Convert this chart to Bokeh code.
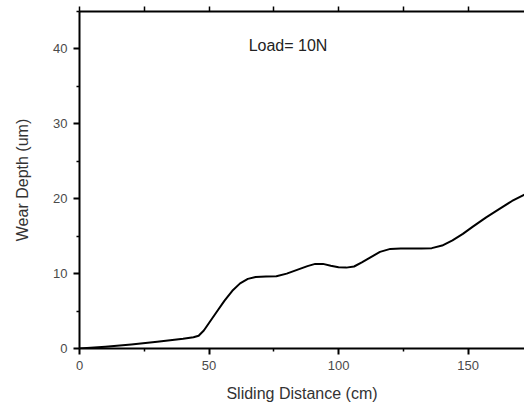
from bokeh.plotting import figure
from bokeh.models import LinearAxis, Label, FixedTicker, ColumnDataSource, CustomJSTickFormatter
from bokeh.embed import file_html
from bokeh.resources import INLINE

distance_cm = [0, 10, 20, 30, 40, 44, 46, 48, 50, 53, 56, 59, 62, 65, 68, 72, 76, 80,
               84, 88, 91, 94, 97, 100, 103, 106, 109, 112, 116, 120, 124, 128, 132,
               136, 140, 144, 148, 152, 157, 162, 167, 172]
wear_depth_um = [0, 0.25, 0.55, 0.9, 1.3, 1.5, 1.7, 2.4, 3.4, 4.9, 6.4, 7.7, 8.7,
                 9.3, 9.55, 9.6, 9.65, 10.0, 10.5, 11.0, 11.3, 11.3, 11.05, 10.85,
                 10.8, 10.95, 11.5, 12.1, 12.9, 13.3, 13.35, 13.35, 13.35, 13.4,
                 13.75, 14.45, 15.3, 16.3, 17.5, 18.6, 19.7, 20.6]
x_major = [0, 50, 100, 150]
x_minor = [25, 75, 125, 175]
y_major = [0, 10, 20, 30, 40]
y_minor = [5, 15, 25, 35, 45]
annotation = "Load= 10N"

FONT = "Liberation Sans"

p = figure(width=524, height=404, x_range=(0, 171.8), y_range=(0, 45),
           output_backend="svg", toolbar_location=None,
           min_border_left=79, min_border_right=0, min_border_top=11, min_border_bottom=10,
           x_axis_label="Sliding Distance (cm)", y_axis_label="Wear Depth (um)")
p.grid.visible = False
p.outline_line_color = None
p.background_fill_color = "white"
p.border_fill_color = "white"

src = ColumnDataSource(dict(x=distance_cm, y=wear_depth_um))
p.line("x", "y", source=src, line_color="black", line_width=2, line_join="round")

for ax in (p.xaxis[0], p.yaxis[0]):
    ax.axis_line_width = 2
    ax.major_tick_line_width = 2
    ax.minor_tick_line_width = 1.5
    ax.major_tick_in = 0
    ax.major_tick_out = 6
    ax.minor_tick_in = 0
    ax.minor_tick_out = 3
    ax.major_label_text_font = FONT
    ax.major_label_text_font_size = "13px"
    ax.major_label_text_color = "#4a4a4a"
    ax.axis_label_text_font = FONT
    ax.axis_label_text_font_size = "16px"
    ax.axis_label_text_font_style = "normal"
    ax.axis_label_text_color = "#333333"

p.xaxis[0].ticker = FixedTicker(ticks=x_major, minor_ticks=x_minor)
p.yaxis[0].ticker = FixedTicker(ticks=y_major, minor_ticks=y_minor)
p.xaxis[0].axis_label_standoff = 12
p.yaxis[0].axis_label_standoff = 19
p.xaxis[0].major_label_standoff = 6
p.yaxis[0].major_label_standoff = 6

top = LinearAxis(ticker=FixedTicker(ticks=x_major + x_minor, minor_ticks=[]),
                 formatter=CustomJSTickFormatter(code="return ''"),
                 major_label_standoff=0,
                 axis_line_width=2, major_tick_line_width=1.5,
                 major_tick_in=0, major_tick_out=5)
p.add_layout(top, "above")

p.add_layout(Label(x=65.3, y=40.4, text=annotation, text_font=FONT,
                   text_font_size="16px", text_color="#222222",
                   text_baseline="middle"))

open("out.html", "w").write(file_html(p, INLINE))
